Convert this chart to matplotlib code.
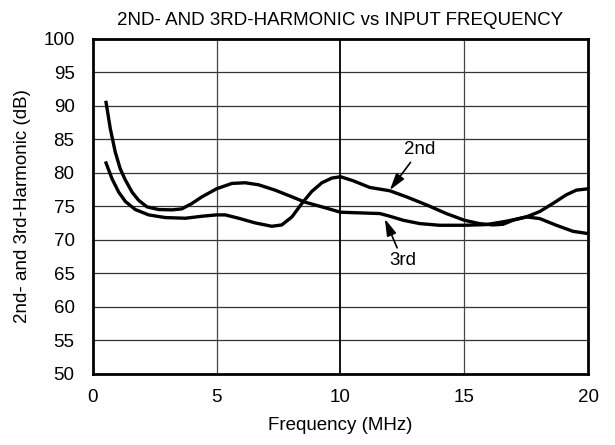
import matplotlib.pyplot as plt

plt.rcParams["font.family"] = ["Liberation Sans", "DejaVu Sans"]

# 2nd harmonic (dB) vs input frequency (MHz)
freq_2nd = [0.54, 0.78, 1.05, 1.32, 1.72, 2.26, 2.93, 3.74, 4.41, 5.0, 5.35, 5.89,
            6.56, 7.23, 7.63, 8.04, 8.44, 8.84, 9.25, 9.65, 10.0, 10.51, 11.18,
            11.99, 12.66, 13.47, 14.27, 15.0, 15.6, 16.15, 16.56, 16.96, 17.5,
            18.04, 18.57, 19.11, 19.52, 20.0]
harm_2nd = [81.45, 79.1, 77.1, 75.7, 74.5, 73.7, 73.3, 73.2, 73.5, 73.7, 73.7, 73.2,
            72.5, 72.0, 72.2, 73.4, 75.4, 77.2, 78.5, 79.2, 79.4, 78.8, 77.8,
            77.3, 76.4, 75.2, 73.9, 72.9, 72.4, 72.2, 72.3, 72.9, 73.4,
            74.2, 75.4, 76.7, 77.4, 77.6]

# 3rd harmonic (dB) vs input frequency (MHz)
freq_3rd = [0.54, 0.71, 0.91, 1.11, 1.32, 1.59, 1.85, 2.19, 2.66, 3.2, 3.6, 4.0,
            4.41, 5.0, 5.62, 6.15, 6.69, 7.36, 8.04, 8.57, 9.25, 10.0, 10.78,
            11.59, 11.99, 12.53, 13.2, 14.0, 15.0, 15.88, 16.69, 17.5, 18.04,
            18.71, 19.38, 20.0]
harm_3rd = [90.5, 86.6, 83.1, 80.6, 78.9, 77.1, 75.9, 74.9, 74.5, 74.45, 74.6, 75.4,
            76.4, 77.6, 78.4, 78.5, 78.2, 77.4, 76.4, 75.6, 74.9, 74.1, 74.0,
            73.9, 73.5, 72.9, 72.4, 72.15, 72.15, 72.25, 72.75, 73.4, 73.15,
            72.15, 71.25, 70.9]

x_ticks = [0, 5, 10, 15, 20]
y_ticks = list(range(50, 101, 5))

fig = plt.figure(figsize=(6.15, 4.45), dpi=100)
ax = fig.add_axes([0.1507, 0.1605, 0.8059, 0.7523])

for y in y_ticks[1:-1]:
    ax.axhline(y, color="#333333", lw=0.9, zorder=1)
for x in x_ticks[1:-1]:
    ax.axvline(x, color="black" if x == 10 else "#444444", lw=1.3 if x == 10 else 0.9, zorder=1)

ax.plot(freq_2nd, harm_2nd, color="black", lw=2.4, zorder=3, solid_joinstyle="round")
ax.plot(freq_3rd, harm_3rd, color="black", lw=2.4, zorder=3, solid_joinstyle="round")

arrow = dict(arrowstyle="-|>,head_length=0.75,head_width=0.22", color="black",
             lw=1.2, shrinkA=1, shrinkB=0)
ax.annotate("2nd", xy=(11.99, 77.4), xytext=(13.2, 83.4), fontsize=13.5,
            ha="center", va="center", arrowprops=arrow)
ax.annotate("3rd", xy=(11.79, 73.1), xytext=(12.5, 66.9), fontsize=13.5,
            ha="center", va="center", arrowprops=arrow)

ax.set_xlim(0, 20)
ax.set_ylim(50, 100)
ax.set_xticks(x_ticks)
ax.set_yticks(y_ticks)
ax.tick_params(length=0, labelsize=13.5)
ax.tick_params(axis="x", pad=11)
ax.tick_params(axis="y", pad=13)
for s in ax.spines.values():
    s.set_linewidth(2)

ax.set_title("2ND- AND 3RD-HARMONIC vs INPUT FREQUENCY", fontsize=13.5, pad=10)
ax.set_xlabel("Frequency (MHz)", fontsize=13.5, labelpad=8)
ax.set_ylabel("2nd- and 3rd-Harmonic (dB)", fontsize=13.5, labelpad=9)

fig.savefig("out.png", dpi=100)
